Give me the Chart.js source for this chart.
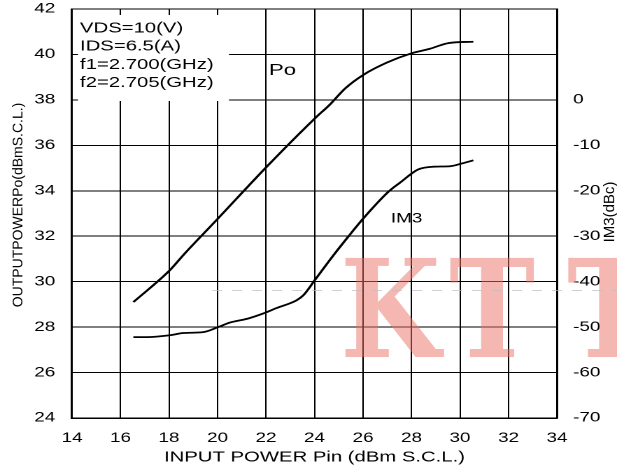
<!DOCTYPE html>
<html><head><meta charset="utf-8">
<script src="https://cdn.jsdelivr.net/npm/chart.js@4.4.0/dist/chart.umd.min.js"></script>
<style>
html,body{margin:0;padding:0;background:#fff;overflow:hidden}
#wrap{width:441px;height:468px;transform:scaleX(1.39909);transform-origin:0 0}
</style>
</head><body>
<div id="wrap"><canvas id="c" width="441" height="468"></canvas></div>
<script>
const STRETCH = 617 / 441;
const FONT = '"Liberation Sans", Arial, sans-serif';
const WM_FONT = 'bold 136px "DejaVu Serif", "Liberation Serif", serif';

// tick values
const pinTicks = [14, 16, 18, 20, 22, 24, 26, 28, 30, 32, 34];
const poutTicks = [24, 26, 28, 30, 32, 34, 36, 38, 40, 42];
const im3Ticks = [-70, -60, -50, -40, -30, -20, -10, 0];

// Po curve: input power (dBm) vs output power (dBm)
const poPin = [16.53, 18.04, 18.59, 20.03, 22.03, 24.02, 24.64, 25.26, 26.01, 26.98, 28.0, 28.76, 29.52, 30.55];
const poOut = [29.10, 30.51, 31.17, 32.79, 35.06, 37.19, 37.8, 38.5, 39.1, 39.64, 40.05, 40.25, 40.5, 40.56];

// IM3 curve: input power (dBm) vs IM3 (dBc)
const im3Pin = [16.53, 17.08, 18.04, 18.59, 19.41, 20.03, 20.51, 21.27, 21.89, 22.44, 23.26, 23.54, 24.02, 24.78, 25.33, 26.01, 27.05, 27.53, 28.28, 28.9, 29.59, 30.07, 30.55];
const im3Dbc = [-52.2, -52.2, -51.8, -51.3, -51.1, -50.0, -49.0, -48.1, -47.0, -45.8, -44.1, -43.0, -39.6, -34.2, -30.5, -26.1, -20.2, -18.2, -15.3, -14.7, -14.6, -14.0, -13.3];

const conditions = ['VDS=10(V)', 'IDS=6.5(A)', 'f1=2.700(GHz)', 'f2=2.705(GHz)'];
const curveLabels = [
  {text: 'Po', x: 22.68, y: 39.28, size: 16},
  {text: 'IM3', x: 27.8, y: 32.76, size: 13.5}
];
const xTitle = 'INPUT POWER Pin (dBm S.C.L.)';
const yTitle = 'OUTPUTPOWERPo(dBmS.C.L.)';
const y1Title = 'IM3(dBc)';
const watermark = ['K', 'T', 'T'];

const deco = {
  id: 'deco',
  beforeDraw(chart) {
    const c = chart.ctx;
    c.save(); c.fillStyle = '#fff'; c.fillRect(0, 0, chart.width, chart.height); c.restore();
  },
  beforeDatasetsDraw(chart) {
    const c = chart.ctx, a = chart.chartArea;
    c.save();
    c.fillStyle = '#fff';
    const bx = a.left + 6 / STRETCH, by = a.top + 6;
    c.fillRect(bx, by, 229 / STRETCH - bx, 101 - by);
    c.fillStyle = '#000';
    c.font = '14.5px ' + FONT;
    c.textAlign = 'left'; c.textBaseline = 'alphabetic';
    const base = [32.3, 50.6, 68.9, 87.2];
    conditions.forEach((t, i) => c.fillText(t, 80 / STRETCH, base[i]));
    c.restore();
  },
  afterDatasetsDraw(chart) {
    const c = chart.ctx, sx = chart.scales.x, sy = chart.scales.y;
    c.save();
    c.fillStyle = '#000';
    c.textAlign = 'center'; c.textBaseline = 'middle';
    curveLabels.forEach(l => {
      c.font = l.size + 'px ' + FONT;
      c.fillText(l.text, sx.getPixelForValue(l.x), sy.getPixelForValue(l.y));
    });
    c.restore();
  },
  afterDraw(chart) {
    const c = chart.ctx;
    c.save();
    c.scale(1 / STRETCH, 1); // reference pixel space
    c.fillStyle = '#000';
    c.textAlign = 'center'; c.textBaseline = 'middle';
    c.save();
    c.translate(18.5, 205); c.rotate(-Math.PI / 2);
    c.font = '14px ' + FONT;
    c.fillText(yTitle, 0, 0);
    c.restore();
    c.save();
    c.translate(610, 212); c.rotate(-Math.PI / 2);
    c.font = '15px ' + FONT;
    c.fillText(y1Title, 0, 0);
    c.restore();
    // watermark
    c.fillStyle = 'rgba(236,112,99,0.5)';
    c.font = WM_FONT;
    c.textAlign = 'left'; c.textBaseline = 'alphabetic';
    const wx = [340, 449, 567];
    watermark.forEach((ch, i) => {
      c.save(); c.translate(wx[i], 357); c.scale(0.85, 1); c.fillText(ch, 0, 0); c.restore();
    });
    c.strokeStyle = 'rgba(190,190,190,0.7)';
    c.lineWidth = 1;
    c.setLineDash([10, 10]);
    c.beginPath(); c.moveTo(212, 290.5); c.lineTo(617, 290.5); c.stroke();
    c.restore();
  }
};

function padFix(s) { s.paddingTop = 9; s.paddingBottom = 0; }

function build() {
  new Chart(document.getElementById('c'), {
    type: 'line',
    data: {
      datasets: [
        {label: 'Po', data: poPin.map((x, i) => ({x, y: poOut[i]})), yAxisID: 'y',
         borderColor: '#000', borderWidth: 1.8, pointRadius: 0, cubicInterpolationMode: 'monotone', fill: false},
        {label: 'IM3', data: im3Pin.map((x, i) => ({x, y: im3Dbc[i]})), yAxisID: 'y1',
         borderColor: '#000', borderWidth: 1.8, pointRadius: 0, cubicInterpolationMode: 'monotone', fill: false}
      ]
    },
    options: {
      responsive: false,
      animation: false,
      devicePixelRatio: 2,
      layout: {padding: 0},
      plugins: {legend: {display: false}, tooltip: {enabled: false}},
      scales: {
        x: {
          type: 'linear', min: 14, max: 34,
          afterBuildTicks: s => { s.ticks = pinTicks.map(v => ({value: v})); },
          grid: {color: '#000', lineWidth: 1, drawTicks: false},
          border: {color: '#000', width: 1.5},
          ticks: {color: '#000', font: {family: FONT, size: 13.5}, padding: 12, maxRotation: 0, autoSkip: false},
          title: {display: true, text: xTitle, color: '#000', font: {family: FONT, size: 14.5}, padding: {top: 2, bottom: 2}},
          afterFit: s => { s.height = 50; s.paddingLeft = 0; s.paddingRight = 0; }
        },
        y: {
          position: 'left', min: 24, max: 42,
          afterBuildTicks: s => { s.ticks = poutTicks.map(v => ({value: v})); },
          grid: {color: '#000', lineWidth: 1, drawTicks: false},
          border: {color: '#000', width: 1.5},
          ticks: {color: '#000', font: {family: FONT, size: 13.5}, padding: 12},
          afterFit: s => { s.width = 72 / STRETCH; padFix(s); }
        },
        y1: {
          position: 'right', min: -70, max: 20,
          afterBuildTicks: s => { s.ticks = im3Ticks.map(v => ({value: v})); },
          grid: {display: false, drawTicks: false},
          border: {color: '#000', width: 1.5},
          ticks: {color: '#000', font: {family: FONT, size: 13.5}, padding: 11.5},
          afterFit: s => { s.width = 60 / STRETCH; padFix(s); }
        }
      }
    },
    plugins: [deco]
  });
}

const loads = [WM_FONT, '14px "Liberation Sans"'].map(f => document.fonts.load(f, 'KT').catch(() => null));
Promise.race([Promise.all(loads), new Promise(r => setTimeout(r, 800))]).then(build);
</script>
</body></html>
